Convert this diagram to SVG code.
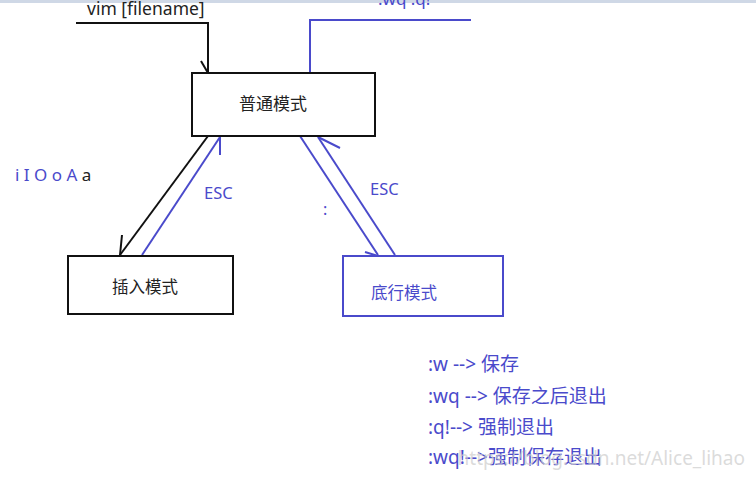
<svg xmlns="http://www.w3.org/2000/svg" width="756" height="480" viewBox="0 0 756 480">
<style>
.k{stroke:#111;stroke-width:2;fill:none}
.b{stroke:#4a4acb;stroke-width:2;fill:none}
.t{font-family:"Noto Sans","Noto Sans CJK SC",sans-serif;font-size:16px}
.n{font-size:19px}
.tb{fill:#4a4acb}
.tk{fill:#222}
</style>
<rect width="756" height="480" fill="#fff"/>
<line x1="0" y1="1.5" x2="756" y2="1.5" stroke="#cfd8e6" stroke-width="3"/>
<g id="connectors">
<polyline class="k" points="76,23 208,23 208,73"/>
<line class="k" x1="201" y1="61" x2="208" y2="73"/>
<polyline class="b" points="310,73 310,20 471,20"/>
<line class="k" x1="208" y1="136" x2="120" y2="255"/>
<line class="k" x1="122" y1="235" x2="120" y2="255"/>
<line class="b" x1="142" y1="255" x2="220" y2="137"/>
<line class="b" x1="220" y1="137" x2="220" y2="155"/>
<line class="b" x1="300" y1="136" x2="378" y2="255"/>
<line class="b" x1="365" y1="252" x2="378" y2="256"/>
<line class="b" x1="395" y1="255" x2="318" y2="137"/>
<line class="b" x1="318" y1="137" x2="340" y2="148"/>
<text class="t tk" x="87" y="15" style="font-size:17.5px">vim [filename]</text>
<text class="t tb" x="378" y="5" style="font-size:17px">:wq :q!</text>
<text class="t tb" x="204" y="199" style="font-size:16.5px">ESC</text>
<text class="t tb" x="370" y="195" style="font-size:16.5px">ESC</text>
<text class="t tb" x="323" y="215">:</text>
</g>
<g id="normal">
<rect class="k" x="192" y="73" width="183" height="63"/>
<text class="t tk" x="273" y="110" text-anchor="middle" style="font-size:17px">普通模式</text>
</g>
<g id="insert">
<rect class="k" x="68" y="256" width="165" height="58"/>
<text class="t tk" x="145" y="293" text-anchor="middle" style="font-size:16.5px">插入模式</text>
</g>
<g id="cmdline">
<rect class="b" x="343" y="256" width="160" height="60"/>
<text class="t tb" x="371" y="299" style="font-size:16.5px">底行模式</text>
</g>
<g id="keys">
<text class="t" x="15" y="181" xml:space="preserve" style="font-size:17px"><tspan class="tb">i I O o A </tspan><tspan class="tk">a</tspan></text>
</g>
<g id="notes">
<text class="t n tb" x="428" y="371">:w --&gt; 保存</text>
<text class="t n tb" x="428" y="403">:wq --&gt; 保存之后退出</text>
<text class="t n tb" x="428" y="434">:q!--&gt; 强制退出</text>
<text class="t n tb" x="428" y="464">:wq!--&gt;强制保存退出</text>
</g>
<text x="745" y="465" text-anchor="end" font-family="Noto Sans, sans-serif" font-size="19" fill="#cccccc" fill-opacity="0.7">https://blog.csdn.net/Alice_lihao</text>
</svg>
